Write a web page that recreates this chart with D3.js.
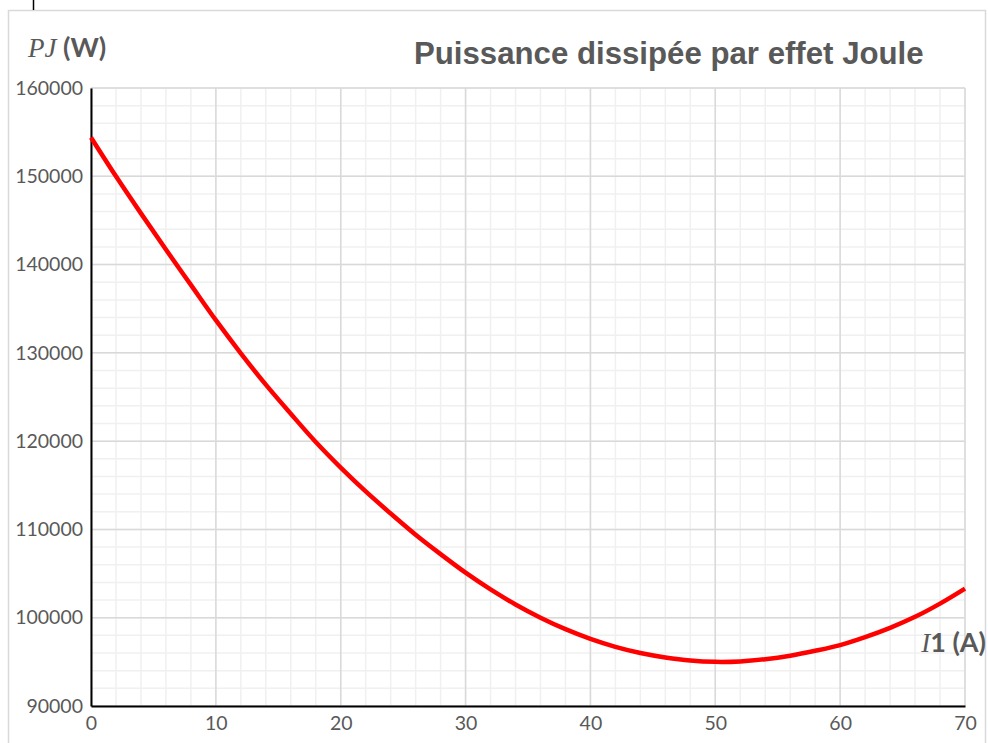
<!DOCTYPE html>
<html>
<head>
<meta charset="utf-8">
<script src="https://cdn.jsdelivr.net/npm/d3@7"></script>
<style>
  body { margin: 0; background: #fff; }
  text { fill: #595959; }
</style>
</head>
<body>
<script>
// current I1 (A), read every 2 A
var current = [0, 2, 4, 6, 8, 10, 12, 14, 16, 18, 20, 22, 24, 26, 28, 30, 32, 34,
               36, 38, 40, 42, 44, 46, 48, 50, 52, 54, 56, 58, 60, 62, 64, 66, 68, 70];
// joule losses PJ (W)
var power = [154400, 150000, 145800, 141700, 137700, 133700, 129950, 126400, 123100,
             119900, 117000, 114300, 111800, 109400, 107200, 105100, 103200, 101500,
             100000, 98700, 97600, 96700, 96000, 95500, 95150, 95000, 95050, 95300,
             95700, 96250, 96900, 97800, 98850, 100100, 101600, 103300];

var xTicks = [0, 10, 20, 30, 40, 50, 60, 70];
var yTicks = [90000, 100000, 110000, 120000, 130000, 140000, 150000, 160000];

var W = 988, H = 743;
// plot box (window.top is taken, so prefixed names)
var pLeft = 91, pRight = 965, pTop = 88, pBottom = 706;

var svg = d3.select("body").append("svg")
    .attr("width", W)
    .attr("height", H);

// chart frame
svg.append("rect")
    .attr("x", 8.5).attr("y", 10.5)
    .attr("width", 977).attr("height", 745)
    .attr("fill", "none").attr("stroke", "#d9d9d9").attr("stroke-width", 1.5);
svg.append("line")
    .attr("x1", 33.5).attr("x2", 33.5).attr("y1", 0).attr("y2", 10)
    .attr("stroke", "#000").attr("stroke-width", 1.5);

var x = d3.scaleLinear().domain([0, 70]).range([pLeft, pRight]);
var y = d3.scaleLinear().domain([90000, 160000]).range([pBottom, pTop]);

// minor grid (every 2 A / 2000 W)
var g = svg.append("g");
g.selectAll("line.vmin")
    .data(d3.range(0, 71, 2))
    .enter().append("line")
    .attr("x1", function(d) { return x(d); })
    .attr("x2", function(d) { return x(d); })
    .attr("y1", pTop).attr("y2", pBottom)
    .attr("stroke", "#f0f0f0").attr("stroke-width", 1.5);
g.selectAll("line.hmin")
    .data(d3.range(90000, 160001, 2000))
    .enter().append("line")
    .attr("y1", function(d) { return y(d); })
    .attr("y2", function(d) { return y(d); })
    .attr("x1", pLeft).attr("x2", pRight)
    .attr("stroke", "#f0f0f0").attr("stroke-width", 1.5);

// major grid
svg.append("g").selectAll("line")
    .data(xTicks)
    .enter().append("line")
    .attr("x1", function(d) { return x(d); })
    .attr("x2", function(d) { return x(d); })
    .attr("y1", pTop).attr("y2", pBottom)
    .attr("stroke", "#d9d9d9").attr("stroke-width", 1.5);
svg.append("g").selectAll("line")
    .data(yTicks)
    .enter().append("line")
    .attr("y1", function(d) { return y(d); })
    .attr("y2", function(d) { return y(d); })
    .attr("x1", pLeft).attr("x2", pRight)
    .attr("stroke", "#d9d9d9").attr("stroke-width", 1.5);

// axes
var yAxis = svg.append("g")
    .attr("transform", "translate(" + pLeft + ",0)")
    .call(d3.axisLeft(y).tickValues(yTicks).tickSize(0).tickPadding(8).tickFormat(d3.format("d")));
var xAxis = svg.append("g")
    .attr("transform", "translate(0," + pBottom + ")")
    .call(d3.axisBottom(x).tickValues(xTicks).tickSize(0).tickPadding(10));
[yAxis, xAxis].forEach(function(a) {
    a.select(".domain").attr("stroke", "#000").attr("stroke-width", 2);
    a.selectAll("text")
        .attr("font-family", "Lato, sans-serif")
        .attr("font-size", 19.5)
        .attr("fill", "#595959");
});

// curve
var line = d3.line()
    .x(function(d, i) { return x(current[i]); })
    .y(function(d) { return y(d); })
    .curve(d3.curveCatmullRom.alpha(0.5));
svg.append("path")
    .datum(power)
    .attr("d", line)
    .attr("fill", "none")
    .attr("stroke", "#ff0000")
    .attr("stroke-width", 4.5);

// title
svg.append("text")
    .attr("x", 414).attr("y", 64)
    .attr("font-family", "'Liberation Sans', Arial, sans-serif")
    .attr("font-weight", "bold")
    .attr("font-size", 31.2)
    .text("Puissance dissipée par effet Joule");

// axis names
var yl = svg.append("text").attr("x", 28).attr("y", 57).attr("font-size", 27);
yl.append("tspan").attr("font-family", "'Liberation Serif', serif").attr("font-style", "italic").text("PJ");
yl.append("tspan").attr("font-family", "Lato, sans-serif").attr("font-weight", "bold").text(" (W)");

var xl = svg.append("text").attr("x", 986).attr("y", 652).attr("font-size", 27)
    .attr("text-anchor", "end");
xl.append("tspan").attr("font-family", "'Liberation Serif', serif").attr("font-style", "italic").text("I");
xl.append("tspan").attr("font-family", "Lato, sans-serif").attr("font-weight", "bold").text("1 (A)");
</script>
</body>
</html>
